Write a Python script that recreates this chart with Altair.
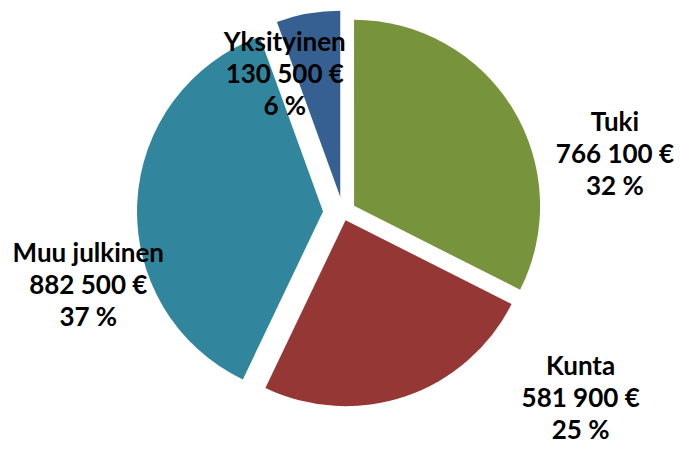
import altair as alt
import pandas as pd

# ---- data ----
categories = ["Tuki", "Kunta", "Muu julkinen", "Yksityinen"]
amounts = [766100, 581900, 882500, 130500]

# ---- styles / layout ----
colors = ["#77933C", "#953735", "#31859C", "#376092"]
explode = [13, 8, 20, 16]              # slice explosion, px
label_angle = [78, 128.1, 254, 337]    # label placement around centre, degrees
label_radius = [278, 302, 265, 149]    # label distance from centre, px
CX, CY, R = 335, 204.6, 186
LINE_H = 32

total = sum(amounts)


def fmt_eur(v):
    return f"{v:,}".replace(",", " ") + " €"


labels = [
    f"{c}\n{fmt_eur(a)}\n{round(a / total * 100)} %"
    for c, a in zip(categories, amounts)
]

df = pd.DataFrame({
    "category": categories,
    "amount": amounts,
    "order": list(range(len(categories))),
    "explode": explode,
    "la": label_angle,
    "lr": label_radius,
    "label": labels,
})

base = alt.Chart(df).transform_joinaggregate(
    total="sum(amount)"
).transform_window(
    cum="sum(amount)", sort=[alt.SortField("order")], frame=[None, 0]
).transform_calculate(
    start="(datum.cum - datum.amount) / datum.total * 2 * PI",
    end="datum.cum / datum.total * 2 * PI",
).transform_calculate(
    mid="(datum.start + datum.end) / 2",
).transform_calculate(
    cx=f"{CX} + datum.explode * sin(datum.mid)",
    cy=f"{CY} - datum.explode * cos(datum.mid)",
    lx=f"{CX} + datum.lr * sin(datum.la * PI / 180)",
    ly=f"{CY} - datum.lr * cos(datum.la * PI / 180)",
)

arcs = base.mark_arc(radius=R, stroke=None).encode(
    theta=alt.Theta("start:Q", scale=None),
    theta2="end:Q",
    x=alt.X("cx:Q", scale=None),
    y=alt.Y("cy:Q", scale=None),
    color=alt.Color("category:N",
                    scale=alt.Scale(domain=categories, range=colors),
                    legend=None),
)

texts = base.mark_text(
    font="Lato", fontWeight="bold", fontSize=26, lineBreak="\n",
    lineHeight=LINE_H, align="center", baseline="middle", color="#000000",
    dy=-LINE_H,
).encode(
    x=alt.X("lx:Q", scale=None),
    y=alt.Y("ly:Q", scale=None),
    text="label:N",
)

chart = alt.layer(arcs, texts).properties(
    width=666, height=436,
    autosize=alt.AutoSizeParams(type="none"),
    padding=0,
    background="#ffffff",
).configure_view(stroke=None)

chart.save("out.html", embed_options={"renderer": "svg", "actions": False})
